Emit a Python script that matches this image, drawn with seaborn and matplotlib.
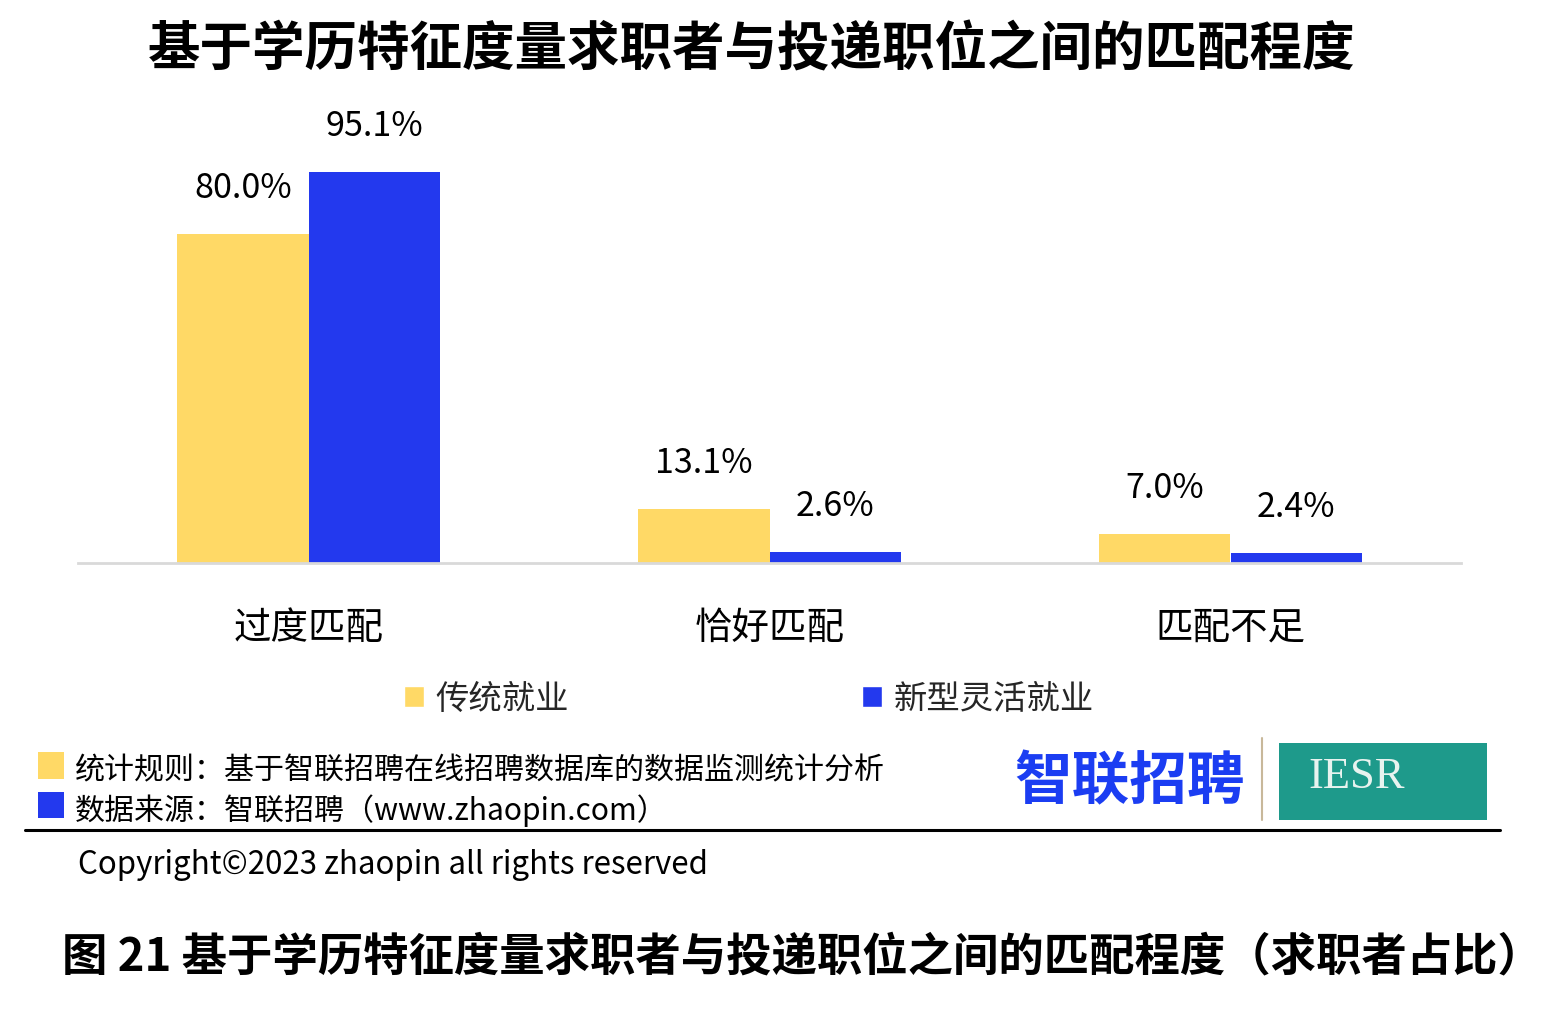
import matplotlib
matplotlib.use("Agg")
import matplotlib.pyplot as plt
import seaborn as sns
import pandas as pd
from matplotlib.patches import Rectangle
from matplotlib.lines import Line2D

categories = ["过度匹配", "恰好匹配", "匹配不足"]
series_names = ["传统就业", "新型灵活就业"]
traditional = [80.0, 13.1, 7.0]
flexible = [95.1, 2.6, 2.4]

title = "基于学历特征度量求职者与投递职位之间的匹配程度"
note1 = "统计规则：基于智联招聘在线招聘数据库的数据监测统计分析"
note2 = "数据来源：智联招聘（www.zhaopin.com）"
copyright_text = "Copyright©2023 zhaopin all rights reserved"
caption = "图 21 基于学历特征度量求职者与投递职位之间的匹配程度（求职者占比）"

YELLOW = "#FFD966"
BLUE = "#2339EE"

sns.set_theme(style="white")
plt.rcParams["font.family"] = ["Noto Sans CJK SC", "DejaVu Sans"]

df = pd.DataFrame({
    "category": categories * 2,
    "series": [series_names[0]] * 3 + [series_names[1]] * 3,
    "value": traditional + flexible,
})

W, H = 1548, 1016
fig = plt.figure(figsize=(W / 100, H / 100), dpi=100)
fig.patch.set_facecolor("white")

ax_left, ax_right = 78 / W, 1461 / W
ax_bottom = (H - 563) / H
ax_height = (563 - 152) / H
ax = fig.add_axes([ax_left, ax_bottom, ax_right - ax_left, ax_height])

sns.barplot(data=df, x="category", y="value", hue="series", order=categories,
            hue_order=series_names, palette=[YELLOW, BLUE], width=0.57,
            saturation=1, ax=ax, legend=True)

handles, labels = ax.get_legend_handles_labels()
ax.get_legend().remove()

ax.set_xlim(-0.5, 2.5)
ax.set_ylim(0, 100)
ax.set_xlabel("")
ax.set_ylabel("")
ax.set_yticks([])
for s in ["top", "right", "left"]:
    ax.spines[s].set_visible(False)
ax.spines["bottom"].set_color("#D9D9D9")
ax.spines["bottom"].set_linewidth(2)
ax.tick_params(axis="x", length=0, pad=33, labelsize=27, labelcolor="black")

for cont in ax.containers:
    for p in cont.patches:
        p.set_edgecolor("none")
        h = p.get_height()
        ax.annotate(f"{h:.1f}%", xy=(p.get_x() + p.get_width() / 2, h),
                    xytext=(0, 33), textcoords="offset points",
                    ha="center", va="center", fontsize=24.5, color="black")

# legend
leg = fig.legend(handles, labels, loc="center", ncol=2,
                 bbox_to_anchor=(749 / W, 1 - 699 / H), frameon=False,
                 fontsize=24, handlelength=0.6, handleheight=0.6,
                 handletextpad=0.35, columnspacing=8.8, borderpad=0)

# title
fig.text(752 / W, 1 - 50 / H, title, ha="center", va="center",
         fontsize=37.8, fontweight="bold", color="black")

# footer notes
fig.patches.append(Rectangle((38 / W, 1 - 779 / H), 26 / W, 27 / H,
                             transform=fig.transFigure, facecolor=YELLOW, edgecolor="none"))
fig.patches.append(Rectangle((38 / W, 1 - 818 / H), 26 / W, 26 / H,
                             transform=fig.transFigure, facecolor=BLUE, edgecolor="none"))
fig.text(75 / W, 1 - 771 / H, note1, ha="left", va="center", fontsize=21.6, color="black")
fig.text(75 / W, 1 - 811 / H, note2, ha="left", va="center", fontsize=21.6, color="black")

fig.lines.append(Line2D([25 / W, 1500 / W], [1 - 830 / H, 1 - 830 / H],
                        transform=fig.transFigure, color="black", linewidth=2.2))

fig.text(78 / W, 1 - 865 / H, copyright_text, ha="left", va="center",
         fontsize=22.5, color="black")

# logos
fig.text(1130 / W, 1 - 782 / H, "智联招聘", ha="center", va="center",
         fontsize=41.5, fontweight="bold", color="#1B3DF2")
fig.lines.append(Line2D([1262 / W, 1262 / W], [1 - 738 / H, 1 - 820 / H],
                        transform=fig.transFigure, color="#C8B89A", linewidth=1.5))
fig.patches.append(Rectangle((1279 / W, 1 - 820 / H), 208 / W, 77 / H,
                             transform=fig.transFigure, facecolor="#1E9A8B", edgecolor="none"))
fig.text(1357 / W, 1 - 777 / H, "IESR", ha="center", va="center",
         fontsize=32, family="Liberation Serif", color="#E8F3EF")

# caption
fig.text(802 / W, 1 - 957 / H, caption, ha="center", va="center",
         fontsize=32.7, fontweight="bold", color="black")

fig.savefig("out.png", dpi=100, facecolor="white")
